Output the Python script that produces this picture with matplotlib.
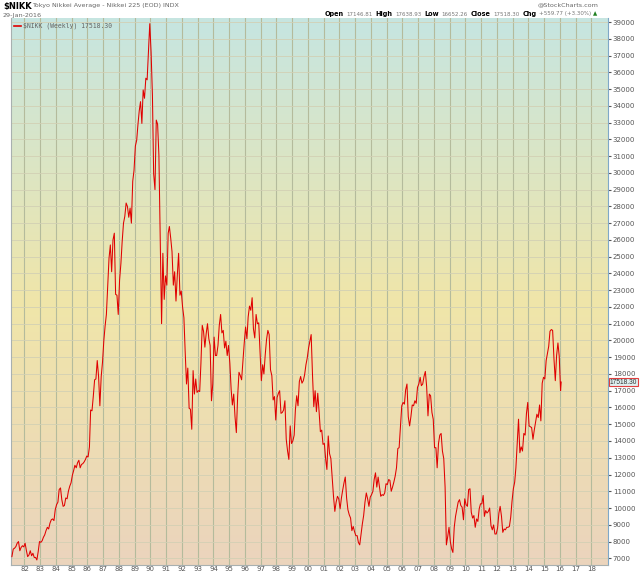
import numpy as np
import pandas as pd
import matplotlib
matplotlib.use("Agg")
import matplotlib.pyplot as plt
import matplotlib.dates as mdates
from matplotlib.colors import LinearSegmentedColormap

# monthly readings of the weekly line, first value = Mar 1981
start_month = "1981-03-01"
nikkei_1980s = [
    7100, 7550, 7600, 7700, 7900, 8000, 7450, 7650, 7750, 7680,
    7900, 7450, 7100, 7200, 7450, 7150, 7300, 7050, 7050, 6900, 7400, 8000,
    7950, 8050, 8250, 8400, 8650, 8850, 8750, 9100, 9300, 9350, 9250, 9900,
    10200, 10350, 11100, 11200, 10500, 10100, 10150, 10600, 10550, 11000, 11300, 11500,
    11950, 12250, 12550, 12400, 12700, 12850, 12400, 12600, 12650, 12750, 12900, 13100,
    13050, 13650, 15850, 15800, 16650, 17650, 17700, 18800, 17850, 16100, 17850, 18700,
    20000, 20900, 21550, 23300, 24900, 25700, 24100, 26000, 26400, 22750, 22700, 21550,
    23600, 24600, 25900, 27000, 27400, 28200, 28000, 27350, 27900, 27000, 29500, 30150,
    31600, 31950, 32850, 33700, 34250, 32950, 34950, 34450, 35650, 35550, 37250, 38900,
]
nikkei_1990s = [
    37200, 34600, 29950, 29000, 33150, 32900, 31050, 26000, 21000, 25200, 22450, 23850,
    23300, 26400, 26800, 26100, 25300, 23300, 24100, 22350, 23900, 25200, 22700, 22950,
    22000, 21350, 19350, 17400, 18350, 15950, 15900, 14700, 18200, 16800, 17700, 16900,
    17000, 16950, 18600, 20900, 20550, 19600, 20400, 21000, 20100, 19700, 16400, 17400,
    20200, 19100, 19100, 19700, 20900, 21550, 20450, 20600, 19550, 19950, 19100, 19700,
    18650, 17050, 16150, 16800, 15450, 14500, 16650, 18100, 17900, 17650, 18750, 19850,
    20800, 20100, 21400, 22050, 21800, 22550, 20700, 20150, 21550, 21000, 21050, 19350,
    17600, 18550, 18000, 19150, 20050, 20600, 20350, 18250, 17900, 16450, 16650, 15250,
    16600, 16850, 17000, 15650, 15700, 15850, 16400, 14100, 13400, 12900, 14900, 13850,
    14000, 14350, 15850, 16700, 16100, 17550, 17850, 17450, 17600, 17950, 18550, 18950,
]
nikkei_2000s = [
    19550, 19950, 20350, 17950, 16050, 17000, 15750, 16850, 15750, 14550, 14650, 13800,
    13850, 12900, 12300, 14300, 13250, 12950, 11850, 10700, 9800, 10350, 10700, 10550,
    9950, 10600, 11050, 11500, 11850, 10600, 9900, 9600, 9400, 8650, 8900, 8600,
    8350, 8350, 7950, 7800, 8400, 9050, 9550, 10350, 10900, 10550, 10100, 10650,
    10800, 11000, 11700, 12100, 11250, 11850, 11300, 10700, 10800, 10750, 10900, 11450,
    11400, 11700, 11650, 11000, 11250, 11550, 11900, 12400, 13550, 13600, 14900, 16100,
    16300, 16200, 17050, 17400, 15450, 14900, 15450, 16150, 16100, 16400, 16250, 17200,
    17400, 17800, 17300, 17400, 17850, 18150, 17250, 15500, 16800, 16700, 15700, 15300,
    13600, 13600, 12400, 13850, 14350, 14450, 13400, 12950, 11250, 7800, 8300, 8850,
    7990, 7550, 7350, 8850, 9500, 9950, 10350, 10500, 10150, 10050, 9300, 10550,
]
nikkei_2010s = [
    10200, 10100, 11100, 11150, 9750, 9400, 9550, 8850, 9350, 9200, 9950, 10250,
    10250, 10750, 9500, 9850, 9700, 9800, 10000, 8950, 8700, 8990, 8450, 8450,
    8800, 9700, 10100, 9500, 8550, 8750, 8700, 8850, 8850, 8900, 9450, 10400,
    11150, 11550, 12400, 13850, 15300, 13300, 13650, 13400, 14450, 14350, 15650, 16300,
    14900, 14850, 14800, 14100, 14650, 15150, 15600, 15400, 16150, 15200, 17450, 17800,
    17700, 18800, 19200, 19650, 20550, 20650, 20600, 18900, 17600, 19100, 19850, 19050,
    17000,
]
last_date = "2016-01-29"
last_close = 17518.30

header_labels = ["Open", "High", "Low", "Close", "Chg"]
header_values = ["17146.81", "17638.93", "16652.26", "17518.30", "+559.77 (+3.30%)"]

values = nikkei_1980s + nikkei_1990s + nikkei_2000s + nikkei_2010s
dates = pd.date_range(start_month, periods=len(values), freq="MS") + pd.Timedelta(days=14)
dates = dates.append(pd.DatetimeIndex([last_date]))
values = values + [last_close]

year_ticks = list(range(1982, 2019))
price_ticks = list(range(7000, 40000, 1000))

W, H = 640, 576
fig = plt.figure(figsize=(W / 100, H / 100), dpi=100)
ax = fig.add_axes([11 / W, 11 / H, 597 / W, 547 / H])

# background gradient
cmap = LinearSegmentedColormap.from_list(
    "bg", [(0.0, "#ebd4bd"), (0.48, "#f0e6a9"), (1.0, "#c6e5e1")])
grad = np.linspace(0, 1, 256).reshape(-1, 1)
ax.imshow(grad, cmap=cmap, aspect="auto", origin="lower",
          extent=[0, 1, 0, 1], transform=ax.transAxes, zorder=0)

for yr in year_ticks:
    ax.axvline(pd.Timestamp(f"{yr}-01-01"), color="#b4bb9c", lw=0.8, zorder=1)
for p in price_ticks:
    ax.axhline(p, color="#d2d0b4", lw=0.6, zorder=1)

ax.plot(dates, values, color="#e00000", lw=0.75, zorder=3)

ax.set_xlim(pd.Timestamp("1981-02-22"), pd.Timestamp("2019-01-19"))
ax.set_ylim(6600, 39241)

ax.set_xticks([pd.Timestamp(f"{yr}-01-01") for yr in year_ticks])
ax.xaxis.set_major_formatter(mdates.DateFormatter("%y"))
ax.yaxis.tick_right()
ax.set_yticks(price_ticks)
ax.set_yticklabels([str(p) for p in price_ticks])
ax.tick_params(axis="both", labelsize=5, colors="#555555", length=2, pad=1.5)
ax.tick_params(axis="x", length=0, pad=1)

ax.spines["top"].set_visible(False)
ax.spines["left"].set_color("#a8b0b0")
ax.spines["bottom"].set_color("#a8b0b0")
ax.spines["right"].set_color("#7fa8c8")
ax.spines["right"].set_linestyle((0, (1, 1)))

# last value box
ax.annotate(f"{last_close:.2f}", xy=(1.0, last_close),
            xycoords=("axes fraction", "data"), xytext=(1, 0),
            textcoords="offset points", va="center", ha="left",
            fontsize=4.8, color="#333333", family="Liberation Sans",
            bbox=dict(boxstyle="square,pad=0.12", fc="#dff0f0", ec="#e04040", lw=0.8))

# legend line
ax.plot([0.005, 0.016], [0.985, 0.985], transform=ax.transAxes, color="#e00000", lw=1.2)
ax.text(0.02, 0.985, "\\$NIKK (Weekly) 17518.30", transform=ax.transAxes,
        fontsize=4.7, color="#666666", va="center", family="DejaVu Sans Mono")


def px(x, y):
    return x / W, 1 - y / H


fig.text(*px(3, 6), "\\$NIKK", fontsize=6, fontweight="bold", va="center")
fig.text(*px(32, 6), "Tokyo Nikkei Average - Nikkei 225 (EOD) INDX",
         fontsize=4.6, color="#666666", va="center")
fig.text(*px(3, 15), "29-Jan-2016", fontsize=4.6, color="#666666", va="center")
fig.text(*px(598, 5), "@StockCharts.com", fontsize=4.6, color="#666666",
         va="center", ha="right")

# header row, laid out left to right
renderer = fig.canvas.get_renderer()
xpos = 325
for lab, val in zip(header_labels, header_values):
    t = fig.text(*px(xpos, 14), lab, fontsize=4.7, fontweight="bold", va="center")
    xpos = t.get_window_extent(renderer).x1 + 2
    t = fig.text(*px(xpos, 14), val, fontsize=4.0, color="#777777", va="center")
    xpos = t.get_window_extent(renderer).x1 + 3.5
fig.text(*px(xpos - 1, 14), "\u25b2", fontsize=4, color="#208020", va="center")

fig.savefig("out.png", dpi=100)
